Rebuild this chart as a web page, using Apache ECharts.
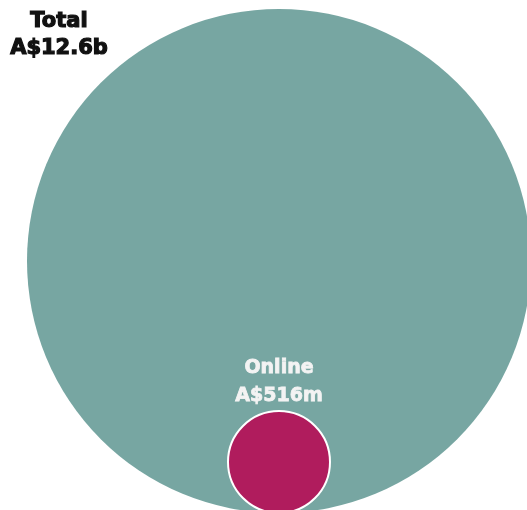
<!DOCTYPE html>
<html>
<head>
<meta charset="utf-8">
<script src="https://cdn.jsdelivr.net/npm/echarts@6/dist/echarts.min.js"></script>
<style>
  html, body { margin: 0; padding: 0; background: #ffffff; }
  #chart { width: 527px; height: 510px; }
</style>
</head>
<body>
<div id="chart"></div>
<script>
// Market size: total spend vs. the online share (A$ millions)
const categories = ['Total', 'Online'];
const values = [12600, 516];
const valueLabels = ['A$12.6b', 'A$516m'];
const colors = ['#77a6a2', '#b01c5d'];

const chart = echarts.init(document.getElementById('chart'));

// Outer bubble geometry; inner bubbles sit on its bottom edge,
// with area proportional to value.
const OUTER = { cx: 279, cy: 261, r: 252 };

function renderItem(params, api) {
  const idx = params.dataIndex;
  const k = OUTER.r / Math.sqrt(values[0]);
  const r = k * Math.sqrt(api.value(0));
  const cx = OUTER.cx;
  const cy = OUTER.cy + OUTER.r - r;
  const children = [{
    type: 'circle',
    shape: { cx: cx, cy: cy, r: r },
    style: {
      fill: colors[idx],
      stroke: idx === 0 ? null : '#ffffff',
      lineWidth: idx === 0 ? 0 : 2
    }
  }];
  if (idx === 0) {
    children.push({
      type: 'text',
      style: {
        text: categories[idx] + '\n' + valueLabels[idx],
        x: 59, y: 35,
        align: 'center', verticalAlign: 'middle',
        fill: '#111111',
        stroke: '#111111',
        lineWidth: 1.2,
        font: 'bold 21px "DejaVu Sans"',
        lineHeight: 27
      }
    });
  } else {
    children.push({
      type: 'text',
      style: {
        text: categories[idx] + '\n' + valueLabels[idx],
        x: cx, y: cy - r - 29,
        align: 'center', verticalAlign: 'middle',
        fill: '#f3f3f3',
        stroke: '#f3f3f3',
        lineWidth: 0.8,
        font: 'bold 19px "DejaVu Sans"',
        lineHeight: 28
      }
    });
  }
  return { type: 'group', children: children };
}

chart.setOption({
  animation: false,
  series: [{
    type: 'custom',
    coordinateSystem: 'none',
    renderItem: renderItem,
    data: values.map(v => [v])
  }]
});
</script>
</body>
</html>
